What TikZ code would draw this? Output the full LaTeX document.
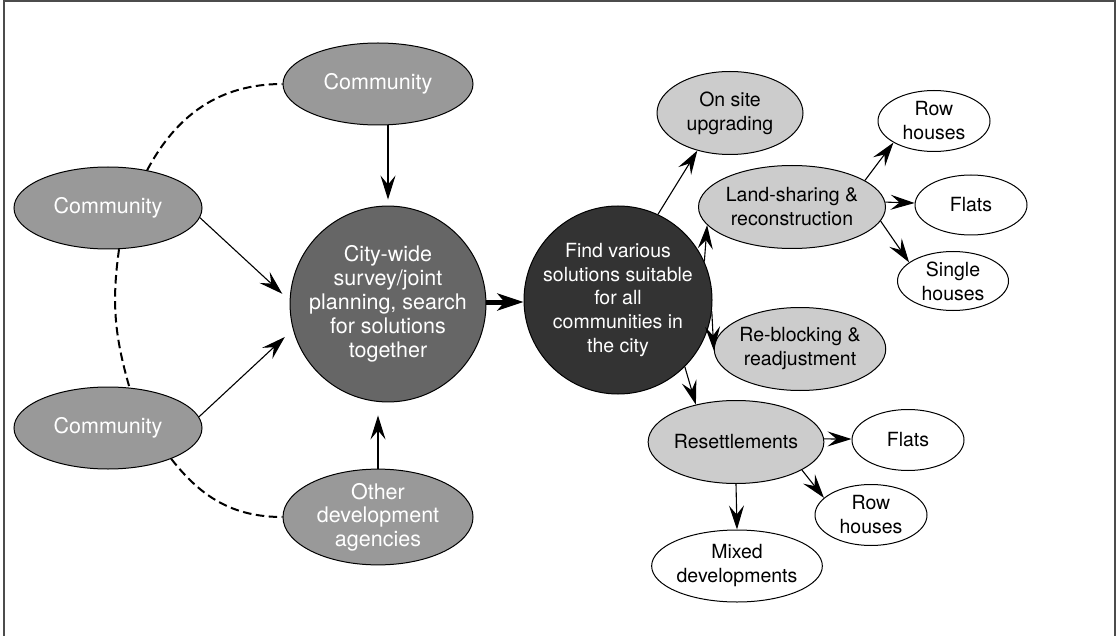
\documentclass[tikz,border=0pt]{standalone}
\usepackage{fontspec}
\setmainfont{TeX Gyre Heros}
\usetikzlibrary{shapes.geometric,arrows.meta,calc}
\definecolor{commgray}{gray}{0.6}
\definecolor{citygray}{gray}{0.4}
\definecolor{findgray}{gray}{0.2}
\definecolor{optgray}{gray}{0.8}
\definecolor{framegray}{gray}{0.3}
\begin{document}
\begin{tikzpicture}[x=1pt,y=1pt,
  base/.style={ellipse,draw=black,line width=1pt,inner sep=0pt,align=center},
  comm/.style={base,fill=commgray,text=white,font=\fontsize{21.5}{23.5}\selectfont},
  bigc/.style={circle,draw=black,line width=1pt,inner sep=0pt,align=center,minimum size=188pt,text=white},
  opt/.style={base,fill=optgray,text=black,font=\fontsize{19.5}{24}\selectfont,minimum width=146pt,minimum height=83pt},
  leaf/.style={base,fill=white,text=black,font=\fontsize{19.5}{24}\selectfont,minimum width=112pt,minimum height=61pt},
  arr/.style={line width=1.1pt,-{Stealth[length=24pt,width=15pt,inset=9pt]}},
  thickarr/.style={line width=5pt,-{Stealth[length=26pt,width=17pt,inset=7pt]}},
  dsh/.style={line width=2pt,dash pattern=on 8.5pt off 4.5pt}
]
\useasboundingbox (0,0) rectangle (1118,-636);
\draw[framegray,line width=2pt] (4,-640) -- (4,-1.5) -- (1114.5,-1.5) -- (1114.5,-640);

% left side
\node[comm,minimum width=190pt,minimum height=82pt] (tc) at (378,-84) {Community};
\node[comm,minimum width=188pt,minimum height=82pt] (lc) at (108,-208) {Community};
\node[comm,minimum width=188pt,minimum height=82pt] (bc) at (108,-428) {Community};
\node[comm,minimum width=190pt,minimum height=86pt] (oth) at (378,-517) {Other\\development\\agencies};
\node[bigc,fill=citygray,font=\fontsize{21.5}{24}\selectfont] (city) at (388,-304) {City-wide\\survey/joint\\planning, search\\for solutions\\together};
\node[bigc,fill=findgray,font=\fontsize{19.5}{23.7}\selectfont] (find) at (618,-300) {Find various\\solutions suitable\\for all\\communities in\\the city};

% right side
\node[opt] (onsite) at (730,-113) {On site\\upgrading};
\node[opt] (land) at (792,-207) {Land-sharing \&\\reconstruction};
\node[opt] (reblock) at (800,-349) {Re-blocking \&\\readjustment};
\node[opt] (resettle) at (736,-442) {Resettlements};
\node[leaf] (row1) at (934,-121) {Row\\houses};
\node[leaf,minimum height=60pt] (flats1) at (971,-205) {Flats};
\node[leaf,minimum width=111pt,minimum height=59pt] (single) at (953,-281) {Single\\houses};
\node[leaf] (flats2) at (908,-440) {Flats};
\node[leaf] (row2) at (871,-515) {Row\\houses};
\node[leaf,minimum width=146pt,minimum height=72pt] (mixed) at (737,-566) {Mixed\\developments};

% dashed links
\draw[dsh] (lc.44) to[out=62,in=180] (tc.west);
\draw[dsh] (lc.-75) to[out=262,in=106] (bc.62);
\draw[dsh] (bc.-26) to[out=-52,in=180] (oth.west);

% arrows into city
\draw[arr,shorten >=6pt] (city.north |- tc.south) -- (city.north);
\draw[arr,shorten >=10pt] (lc.-6) -- (city.178);
\draw[arr,shorten >=11pt] (bc.7) -- (city.195);
\draw[arr,shorten >=13pt] (oth.north) -- (oth.north |- city.south);

% thick arrow
\draw[thickarr] ($(city.east)+(0,2)$) -- ($(city.east -| find.west)+(0,2)$);

% from find
\draw[arr] (find.65) -- (onsite.-131);
\draw[arr] (find.24) -- (land.-168);
\draw[arr] (find.-7) -- (reblock.181);
\draw[arr] (find.-45) -- (resettle.137);

% from land-sharing
\draw[arr] (land.20) -- (row1.-152);
\draw[arr] (land.3) -- (flats1.178);
\draw[arr] (land.-9) -- (single.157);

% from resettlements
\draw[arr] (resettle.2) -- (flats2.179);
\draw[arr] (resettle.-23) -- (row2.160);
\draw[arr] (resettle.south) -- (mixed.north);
\end{tikzpicture}
\end{document}
